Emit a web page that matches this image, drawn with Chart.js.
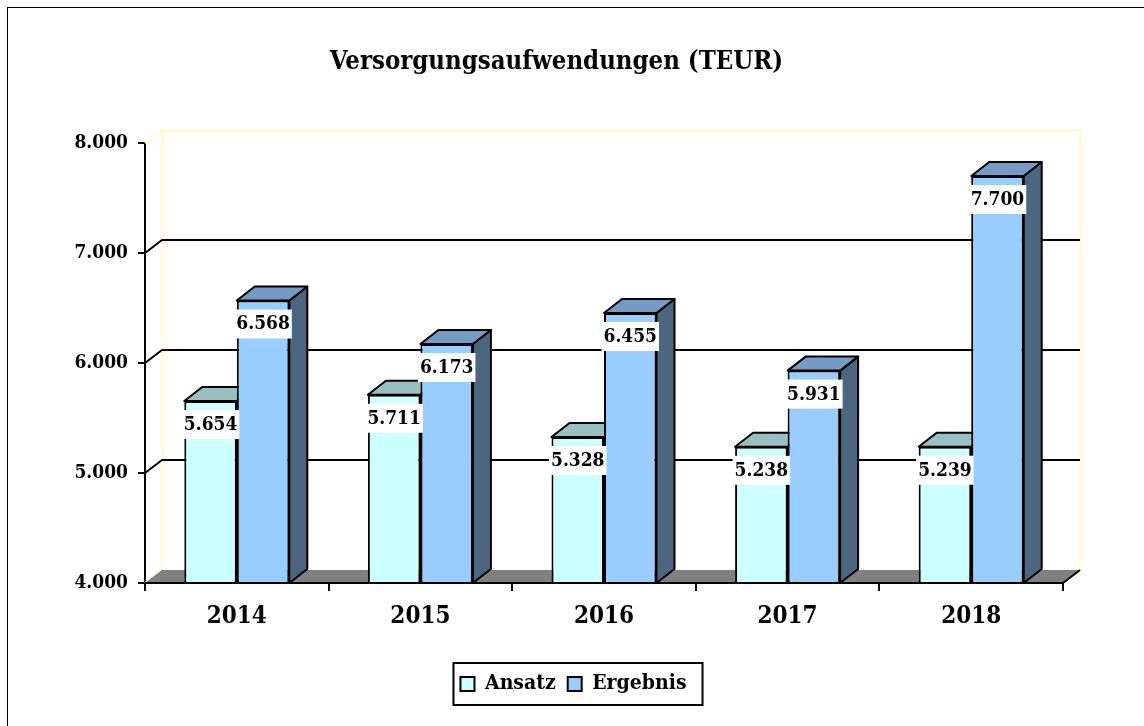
<!DOCTYPE html>
<html>
<head>
<meta charset="utf-8">
<script src="https://cdn.jsdelivr.net/npm/chart.js@4.4.1/dist/chart.umd.min.js"></script>
<style>
  html, body { margin: 0; padding: 0; background: #fff; }
  canvas { display: block; }
</style>
</head>
<body>
<canvas id="chart" width="1144" height="726"></canvas>
<script>
const years = ['2014', '2015', '2016', '2017', '2018'];
const ansatz = [5654, 5711, 5328, 5238, 5239];
const ergebnis = [6568, 6173, 6455, 5931, 7700];
const yTicks = [4000, 5000, 6000, 7000, 8000];

const FONT = "'DejaVu Serif Condensed', 'DejaVu Serif', serif";
const WALL = { dx: 17, dy: -13 };
const BAR = { dx: 18, dy: -14 };
// top / side shading of the 3d bars, per dataset
const faces = [
  { top: '#99C0C0', side: '#668080' },
  { top: '#739BC3', side: '#4D6680' }
];

function fmt(v) {
  return String(Math.round(v)).replace(/\B(?=(\d{3})+(?!\d))/g, '.');
}

function poly(ctx, pts, fill) {
  ctx.beginPath();
  ctx.moveTo(pts[0][0], pts[0][1]);
  for (let i = 1; i < pts.length; i++) ctx.lineTo(pts[i][0], pts[i][1]);
  ctx.closePath();
  ctx.fillStyle = fill;
  ctx.fill();
  ctx.stroke();
}

const scene3d = {
  id: 'scene3d',
  beforeDraw(chart) {
    const ctx = chart.ctx;
    ctx.save();
    ctx.fillStyle = '#fff';
    ctx.fillRect(0, 0, chart.width, chart.height);
    ctx.strokeStyle = '#000';
    ctx.lineWidth = 1;
    ctx.strokeRect(7.5, 7.5, chart.width + 20, chart.height + 20);
    ctx.restore();
  },
  afterLayout(chart) {
    // title and legend are not centred on the canvas in the original
    chart.titleBlock.left += 25;
    chart.titleBlock.right += 25;
    chart.legend.left += 42;
    chart.legend.right += 42;
  },
  beforeDatasetsDraw(chart) {
    const { ctx, chartArea: a, scales: { y } } = chart;
    const { dx, dy } = WALL;
    ctx.save();
    ctx.lineWidth = 2;
    ctx.lineJoin = 'round';
    // back wall
    ctx.strokeStyle = '#FFFFCC';
    ctx.strokeRect(a.left + dx, a.top + dy, a.right - a.left, a.bottom - a.top);
    // gridlines on the wall
    yTicks.forEach((v, i) => {
      const py = y.getPixelForValue(v);
      const edge = i === 0 || i === yTicks.length - 1;
      ctx.strokeStyle = edge ? '#FFFFCC' : '#000';
      ctx.beginPath();
      ctx.moveTo(a.left, py);
      ctx.lineTo(a.left + dx, py + dy);
      if (!edge) ctx.lineTo(a.right + dx, py + dy);
      ctx.stroke();
    });
    // floor
    ctx.strokeStyle = 'rgba(0,0,0,0)';
    poly(ctx, [[a.left, a.bottom], [a.right, a.bottom], [a.right + dx, a.bottom + dy], [a.left + dx, a.bottom + dy]], '#808080');
    ctx.strokeStyle = '#000';
    ctx.beginPath();
    ctx.moveTo(a.left, a.bottom);
    ctx.lineTo(a.right, a.bottom);
    ctx.lineTo(a.right + dx, a.bottom + dy);
    ctx.stroke();
    // top and side faces of the bars; chart.js paints the front faces afterwards
    chart.data.datasets.forEach((ds, di) => {
      const f = faces[di];
      chart.getDatasetMeta(di).data.forEach(bar => {
        const l = bar.x - bar.width / 2, r = bar.x + bar.width / 2;
        const t = bar.y, b = Math.min(bar.base, a.bottom);
        poly(ctx, [[r, t], [r + BAR.dx, t + BAR.dy], [r + BAR.dx, b + BAR.dy], [r, b]], f.side);
        poly(ctx, [[l, t], [r, t], [r + BAR.dx, t + BAR.dy], [l + BAR.dx, t + BAR.dy]], f.top);
      });
    });
    ctx.restore();
  },
  afterDatasetsDraw(chart) {
    const { ctx, chartArea: a } = chart;
    ctx.save();
    ctx.lineWidth = 2;
    ctx.strokeStyle = '#000';
    ctx.beginPath();
    ctx.moveTo(a.left, a.bottom);
    ctx.lineTo(a.right, a.bottom);
    ctx.stroke();
    ctx.font = 'bold 19px ' + FONT;
    ctx.textAlign = 'center';
    ctx.textBaseline = 'middle';
    chart.data.datasets.forEach((ds, di) => {
      chart.getDatasetMeta(di).data.forEach((bar, i) => {
        const txt = fmt(ds.data[i]);
        const w = ctx.measureText(txt).width + 4;
        const top = bar.y + 9;
        ctx.fillStyle = '#fff';
        ctx.fillRect(bar.x - w / 2, top, w, 29);
        ctx.fillStyle = '#000';
        ctx.fillText(txt, bar.x, top + 15);
      });
    });
    ctx.restore();
  },
  afterDraw(chart) {
    const hb = chart.legend.legendHitBoxes;
    if (!hb || !hb.length) return;
    const ctx = chart.ctx;
    const left = Math.min(...hb.map(h => h.left)) - 7;
    const right = Math.max(...hb.map(h => h.left + h.width)) + 16;
    const mid = hb[0].top + hb[0].height / 2;
    ctx.save();
    ctx.strokeStyle = '#000';
    ctx.lineWidth = 2;
    ctx.strokeRect(left, mid - 21, right - left, 42);
    ctx.restore();
  }
};

new Chart(document.getElementById('chart'), {
  type: 'bar',
  data: {
    labels: years,
    datasets: [
      {
        label: 'Ansatz',
        data: ansatz,
        backgroundColor: '#CCFFFF',
        borderColor: '#000',
        borderWidth: 2,
        borderSkipped: false
      },
      {
        label: 'Ergebnis',
        data: ergebnis,
        backgroundColor: '#99CCFF',
        borderColor: '#000',
        borderWidth: 2,
        borderSkipped: false
      }
    ]
  },
  options: {
    responsive: false,
    animation: false,
    devicePixelRatio: 1,
    categoryPercentage: 0.572,
    barPercentage: 1.0,
    layout: { padding: { left: 0, right: 81, top: 0, bottom: 21.5 } },
    plugins: {
      tooltip: { enabled: false },
      title: {
        display: true,
        text: 'Versorgungsaufwendungen (TEUR)',
        color: '#000',
        font: { family: FONT, size: 25.5, weight: 'bold' },
        padding: { top: 47, bottom: 65.4 }
      },
      legend: {
        position: 'bottom',
        labels: {
          color: '#000',
          font: { family: FONT, size: 21, weight: 'bold' },
          boxWidth: 14,
          boxHeight: 14,
          padding: 12
        }
      }
    },
    scales: {
      x: {
        grid: { display: true, drawOnChartArea: false, tickLength: 8, color: '#000', lineWidth: 2, offset: true },
        border: { display: true, color: '#000', width: 2 },
        ticks: { color: '#000', font: { family: FONT, size: 24, weight: 'bold' }, padding: 11 },
        afterFit(s) { s.height = 78.5; }
      },
      y: {
        min: yTicks[0],
        max: yTicks[yTicks.length - 1],
        afterBuildTicks(s) { s.ticks = yTicks.map(v => ({ value: v })); },
        grid: { display: true, drawOnChartArea: false, tickLength: 7, color: '#000', lineWidth: 2 },
        border: { display: true, color: '#000', width: 2 },
        ticks: { color: '#000', font: { family: FONT, size: 19, weight: 'bold' }, padding: 10, callback: v => fmt(v) },
        afterFit(s) { s.width = 145; }
      }
    }
  },
  plugins: [scene3d]
});
</script>
</body>
</html>
